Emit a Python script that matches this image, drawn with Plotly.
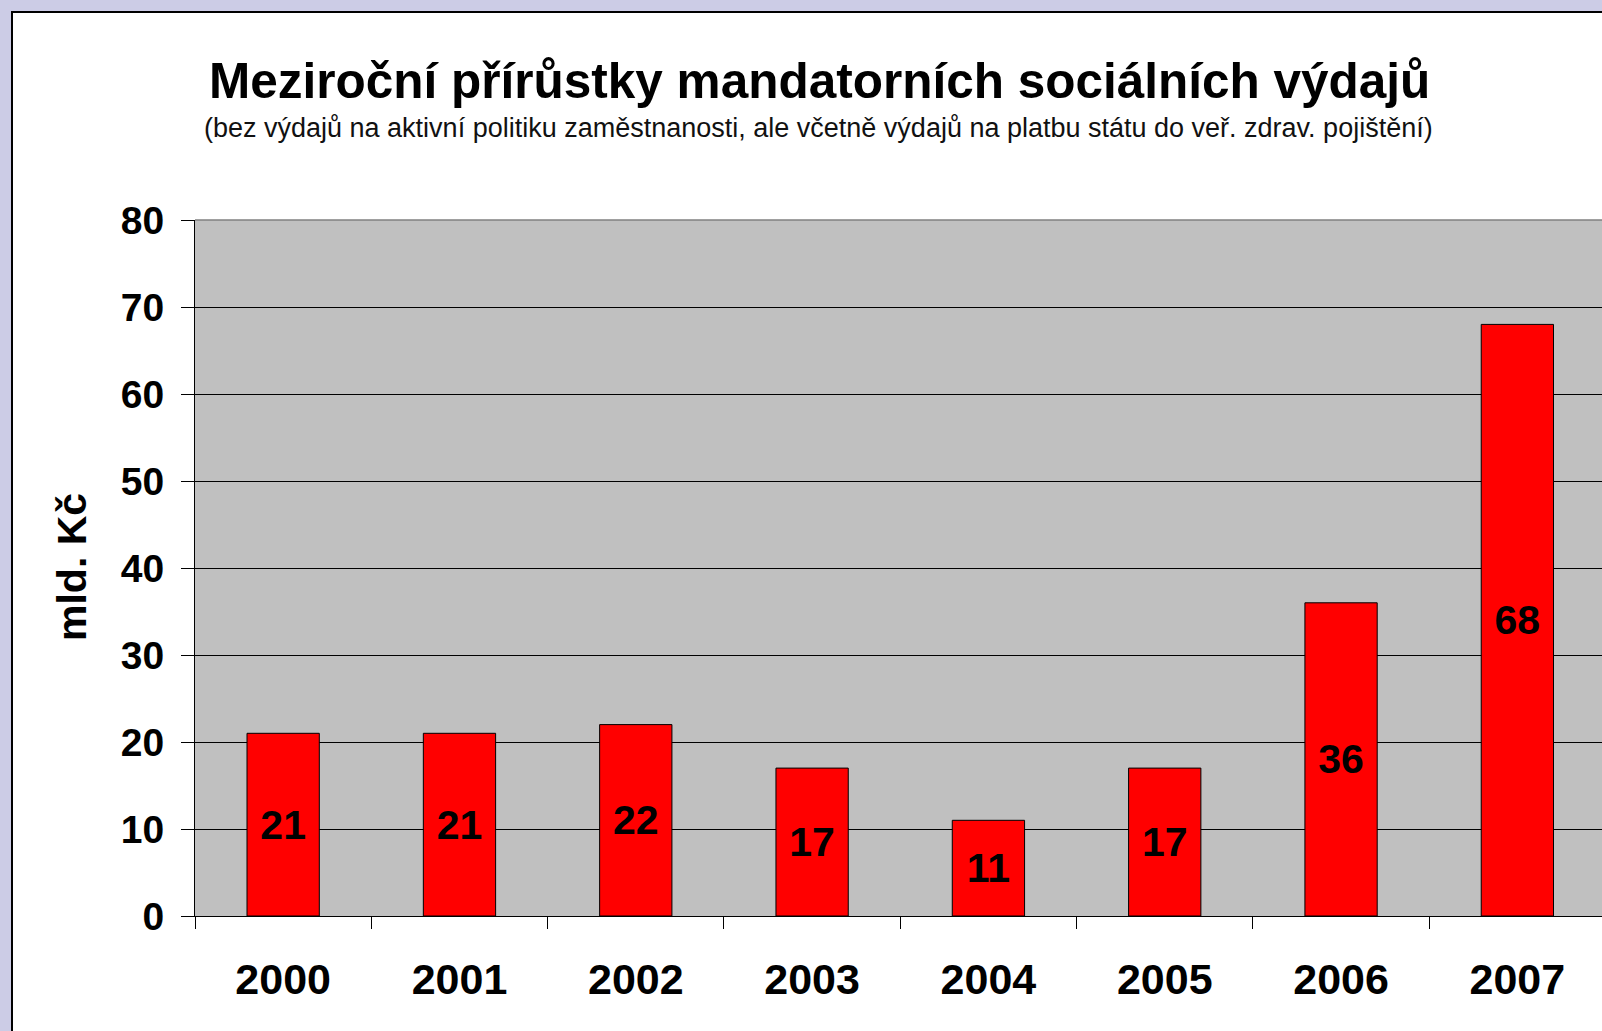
import plotly.graph_objects as go

years = ["2000", "2001", "2002", "2003", "2004", "2005", "2006", "2007"]
values = [21, 21, 22, 17, 11, 17, 36, 68]
y_ticks = [0, 10, 20, 30, 40, 50, 60, 70, 80]

title_text = "Meziroční přírůstky mandatorních sociálních výdajů"
subtitle_text = "(bez výdajů na aktivní politiku zaměstnanosti, ale včetně výdajů na platbu státu do veř. zdrav. pojištění)"
y_title = "mld. Kč"

W, H = 1602, 1031
L, R, T, B = 195, 0, 220, 115
pw, ph = W - L - R, H - T - B

def px_x(x):
    return (x - L) / pw

def px_y(y):
    return (H - B - y) / ph

FONT = "Arial, Liberation Sans, sans-serif"

fig = go.Figure(go.Bar(
    x=years,
    y=values,
    text=[str(v) for v in values],
    textposition="inside",
    insidetextanchor="middle",
    textangle=0,
    constraintext="none",
    textfont=dict(family=FONT, size=41, color="black", weight="bold"),
    marker=dict(color="#FF0000", line=dict(color="#000000", width=1)),
    width=0.41,
    hoverinfo="skip",
))

fig.update_layout(
    width=W, height=H,
    margin=dict(l=L, r=R, t=T, b=B, pad=0),
    paper_bgcolor="white",
    plot_bgcolor="#C0C0C0",
    showlegend=False,
    font=dict(family=FONT, color="black"),
    xaxis=dict(
        type="category",
        range=[-0.5, 7.48],
        tickson="boundaries",
        ticks="outside", ticklen=12, tickwidth=1, tickcolor="black",
        showgrid=False, zeroline=False,
        showline=True, linecolor="black", linewidth=1,
        tickfont=dict(family=FONT, size=43, color="black", weight="bold"),
        ticklabelstandoff=25,
    ),
    yaxis=dict(
        range=[0, 80],
        tickmode="array",
        tickvals=y_ticks,
        ticks="outside", ticklen=13, tickwidth=1, tickcolor="black",
        showgrid=True, gridcolor="black", gridwidth=1,
        zeroline=False,
        showline=True, linecolor="black", linewidth=1,
        tickfont=dict(family=FONT, size=39, color="black", weight="bold"),
        ticklabelstandoff=9,
    ),
    shapes=[
        dict(type="rect", xref="paper", yref="paper", x0=px_x(0), x1=px_x(W), y0=px_y(0), y1=px_y(11),
             fillcolor="#CCCCE6", line=dict(width=0), layer="below"),
        dict(type="rect", xref="paper", yref="paper", x0=px_x(0), x1=px_x(11), y0=px_y(0), y1=px_y(H),
             fillcolor="#CCCCE6", line=dict(width=0), layer="below"),
        dict(type="line", xref="paper", yref="paper", x0=px_x(11), x1=px_x(W), y0=px_y(12), y1=px_y(12),
             line=dict(color="black", width=2)),
        dict(type="line", xref="paper", yref="paper", x0=px_x(12), x1=px_x(12), y0=px_y(11), y1=px_y(H),
             line=dict(color="black", width=2)),
        dict(type="line", xref="paper", yref="paper", x0=0, x1=1, y0=1, y1=1,
             line=dict(color="#808080", width=1.5)),
    ],
    annotations=[
        dict(text=f"<b>{title_text}</b>", xref="paper", yref="paper", x=px_x(819), y=px_y(80),
             xanchor="center", yanchor="middle", showarrow=False,
             font=dict(family=FONT, size=49.5, color="black")),
        dict(text=subtitle_text, xref="paper", yref="paper", x=px_x(818), y=px_y(128),
             xanchor="center", yanchor="middle", showarrow=False,
             font=dict(family=FONT, size=27, color="#111111")),
        dict(text=f"<b>{y_title}</b>", xref="paper", yref="paper", x=px_x(72), y=px_y(567),
             xanchor="center", yanchor="middle", showarrow=False, textangle=-90,
             font=dict(family=FONT, size=41, color="black")),
    ],
)

fig.write_html("out.html", config={"displayModeBar": False},
               post_script="document.body.style.margin='0';document.body.style.overflow='hidden';")
